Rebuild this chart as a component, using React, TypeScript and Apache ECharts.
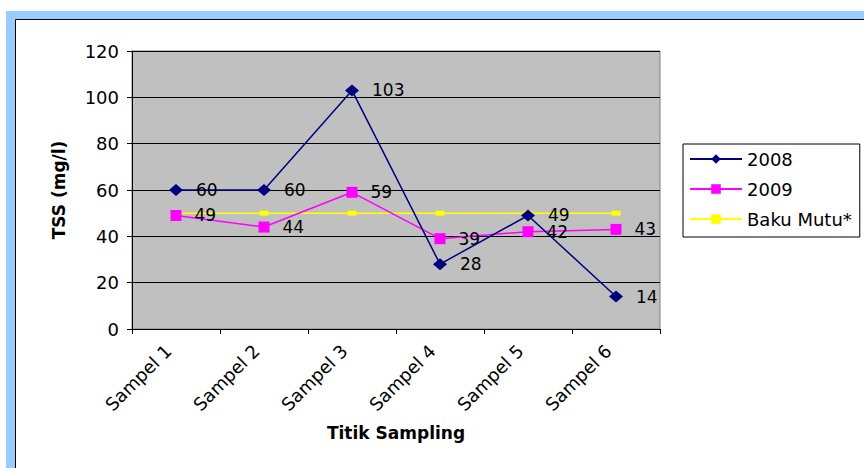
import React, { useEffect, useRef } from "react";
import * as echarts from "echarts";

const categories = ["Sampel 1", "Sampel 2", "Sampel 3", "Sampel 4", "Sampel 5", "Sampel 6"];
const tss2008 = [60, 60, 103, 28, 49, 14];
const tss2009 = [49, 44, 59, 39, 42, 43];
const bakuMutu = [50, 50, 50, 50, 50, 50];
const yTicks = { min: 0, max: 120, interval: 20 };

const FONT = "'DejaVu Sans', Verdana, sans-serif";

export default function App() {
  const ref = useRef<HTMLDivElement>(null);

  useEffect(() => {
    if (!ref.current) return;
    const chart = echarts.init(ref.current, undefined, { renderer: "svg" });
    const valueLabel = {
      show: true,
      position: "right" as const,
      distance: 13,
      color: "#000",
      fontSize: 17,
      fontFamily: FONT,
    };
    chart.setOption({
      animation: false,
      backgroundColor: "#fff",
      textStyle: { fontFamily: FONT },
      graphic: [
        { type: "rect", shape: { x: 6, y: 11, width: 858, height: 457 }, style: { fill: "#99ccff" }, z: -10 },
        { type: "rect", shape: { x: 15, y: 19, width: 849, height: 449 }, style: { fill: "#ffffff" }, z: -9 },
        { type: "line", shape: { x1: 15.5, y1: 19.5, x2: 864, y2: 19.5 }, style: { stroke: "#000", lineWidth: 1 }, z: -8 },
        { type: "line", shape: { x1: 15.5, y1: 19.5, x2: 15.5, y2: 468 }, style: { stroke: "#000", lineWidth: 1 }, z: -8 },
      ],
      grid: {
        left: 132,
        top: 51,
        width: 528,
        height: 278,
        show: true,
        backgroundColor: "#c0c0c0",
        borderColor: "#808080",
        borderWidth: 1,
      },
      legend: {
        orient: "vertical",
        left: 683,
        top: 144,
        data: ["2008", "2009", "Baku Mutu*"],
        itemWidth: 52,
        itemHeight: 12,
        itemGap: 12,
        padding: [6, 8, 9, 6],
        borderColor: "#000",
        borderWidth: 1,
        backgroundColor: "#fff",
        textStyle: { fontSize: 18, color: "#000", fontFamily: FONT },
      },
      xAxis: {
        type: "category",
        data: categories,
        boundaryGap: true,
        name: "Titik Sampling",
        nameLocation: "middle",
        nameGap: 95,
        nameTextStyle: { fontSize: 17, fontWeight: "bold", color: "#000", fontFamily: FONT },
        axisLine: { lineStyle: { color: "#000", width: 1 } },
        axisTick: { show: true, length: 5, lineStyle: { color: "#000" } },
        axisLabel: {
          rotate: 45,
          fontSize: 18,
          color: "#000",
          margin: 11,
          padding: [0, 11, 0, 0],
          fontFamily: FONT,
        },
        splitLine: { show: false },
      },
      yAxis: {
        type: "value",
        min: yTicks.min,
        max: yTicks.max,
        interval: yTicks.interval,
        name: "TSS (mg/l)",
        nameLocation: "middle",
        nameGap: 65,
        nameTextStyle: { fontSize: 17, fontWeight: "bold", color: "#000", fontFamily: FONT },
        axisLine: { show: true, lineStyle: { color: "#000", width: 1 } },
        axisTick: { show: true, length: 5, lineStyle: { color: "#000" } },
        axisLabel: { fontSize: 18, color: "#000", margin: 13, fontFamily: FONT },
        splitLine: { show: true, lineStyle: { color: "#000", width: 1 } },
      },
      series: [
        {
          name: "Baku Mutu*",
          type: "line",
          data: bakuMutu,
          symbol: "rect",
          symbolSize: [9, 5],
          z: 1,
          lineStyle: { color: "#ffff00", width: 1.5 },
          itemStyle: { color: "#ffff00" },
        },
        {
          name: "2009",
          type: "line",
          data: tss2009,
          symbol: "rect",
          symbolSize: 11,
          z: 2,
          lineStyle: { color: "#ff00ff", width: 1.5 },
          itemStyle: { color: "#ff00ff" },
          label: valueLabel,
        },
        {
          name: "2008",
          type: "line",
          data: tss2008,
          symbol: "diamond",
          symbolSize: [14, 12],
          z: 3,
          lineStyle: { color: "#000080", width: 1.5 },
          itemStyle: { color: "#000080" },
          label: valueLabel,
        },
      ],
    });
    return () => chart.dispose();
  }, []);

  return (
    <div
      ref={ref}
      style={{ position: "fixed", left: 0, top: 0, width: 864, height: 468 }}
    />
  );
}
